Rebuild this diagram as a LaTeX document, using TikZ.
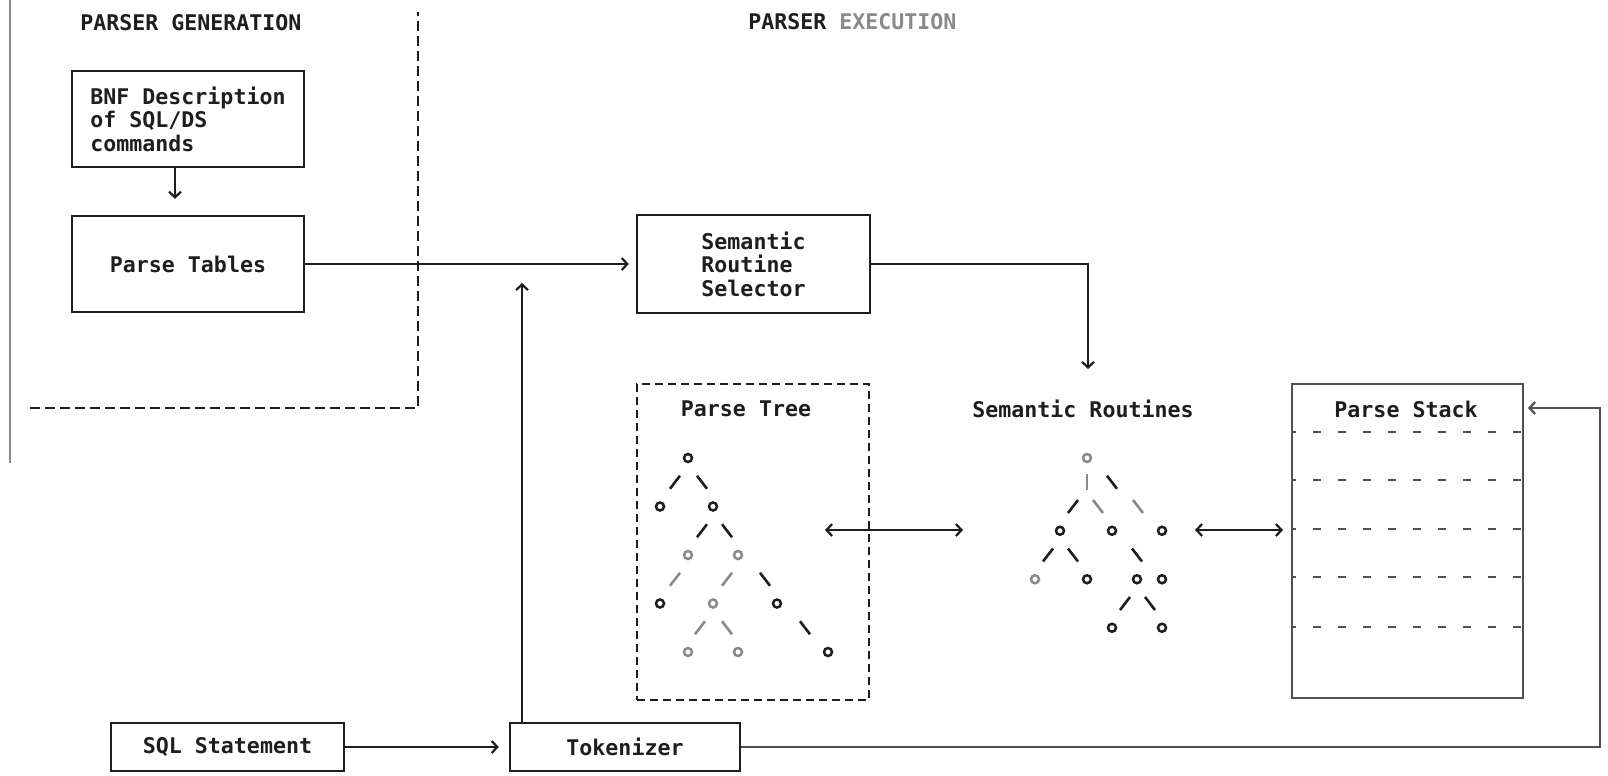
\documentclass[tikz,border=0pt]{standalone}
\usepackage{fontspec}
\setmainfont{DejaVu Sans Mono}
\usetikzlibrary{arrows.meta}

\definecolor{ink}{HTML}{1E1E1E}
\definecolor{faded}{HTML}{8A8A8A}
\definecolor{stackink}{HTML}{505050}

% small pieces of the ASCII-style trees
\newcommand\tnode[3][ink]{\draw[#1, line width=1.25pt] (#2,#3) circle[radius=2pt];}
\newcommand\fsl[3][ink]{\draw[#1, line width=1.3pt] (#2-5,#3+6.5) -- (#2+5,#3-6.5);}
\newcommand\bsl[3][ink]{\draw[#1, line width=1.3pt] (#2-5,#3-6.5) -- (#2+5,#3+6.5);}
\newcommand\vsl[3][ink]{\draw[#1, line width=1.3pt] (#2,#3-8) -- (#2,#3+8);}

\tikzset{
  every node/.style={font=\fontsize{10.8}{11.75}\selectfont\bfseries, text=ink},
  box/.style={draw=ink, line width=1.2pt, inner sep=0pt},
  dashbox/.style={draw=ink, line width=1.1pt, dash pattern=on 4pt off 2.5pt, inner sep=0pt},
  caption/.style={inner sep=0pt},
  wire/.style={draw=ink, line width=1pt},
  barb/.tip={Straight Barb[length=2.8pt,width=6pt,line width=1.1pt]},
  arr/.style={wire, -barb},
  dualarr/.style={wire, barb-barb},
}

\begin{document}
\begin{tikzpicture}[x=0.5pt,y=-0.5pt]
\fill[white] (0,0) rectangle (1608,776);
\useasboundingbox (0,0) rectangle (1608,776);

% phase separators
\draw[faded, line width=1.2pt] (10,0) -- (10,463);
\draw[ink, line width=1.1pt, dash pattern=on 5pt off 2.5pt] (30,408) -- (418,408) -- (418,12);

% headings
\node[caption, anchor=west] (gen) at (80,23) {PARSER GENERATION};
\node[caption, anchor=west] (exec) at (748,22) {PARSER \textcolor{faded}{EXECUTION}};

% boxes
\node[box, minimum width=116pt, minimum height=48pt, align=left] (bnf) at (188,119)
  {BNF Description\\of SQL/DS\\commands};
\node[box, minimum width=116pt, minimum height=48pt] (tables) at (188,264) {Parse Tables\hspace{7pt}};
\node[box, minimum width=116.5pt, minimum height=49pt, align=left] (selector) at (753.5,264)
  {Semantic\\Routine\\Selector};
\node[caption] (routines) at (1083,409) {Semantic Routines};
\node[dashbox, minimum width=116pt, minimum height=158pt] (tree) at (753,542) {};
\node[caption] (treetitle) at (746,409) {Parse Tree};
\node[box, draw=stackink, minimum width=115.5pt, minimum height=157pt] (stack) at (1407.5,541) {};
\node[caption] (stacktitle) at (1406,409) {Parse Stack};
\node[box, minimum width=116.5pt, minimum height=24pt] (sql) at (227.5,747) {SQL Statement};
\node[box, minimum width=115pt, minimum height=24pt] (tok) at (625,747) {Tokenizer};

% stack slots
\foreach \y in {432,480,529,577,627}
  \draw[stackink, line width=1.2pt, dash pattern=on 4pt off 8.5pt, dash phase=2.5pt] (1293,\y) -- (1523,\y);

% connectors
\draw[arr, shorten >=8pt] ([xshift=-6.5pt]bnf.south) -- ([xshift=-6.5pt]tables.north);
\draw[arr, shorten >=3.5pt] (tables.east) -- (selector.west);
\coordinate (rtop) at (1088,369);
\draw[arr] (selector.east) -| (rtop);
\coordinate (tokup) at (522,283);
\draw[arr] (tok.north -| tokup) -- (tokup);
\draw[arr, shorten >=5pt] (sql.east) -- (tok.west);
\coordinate (loop) at (1600,408);
\coordinate (stackin) at (1528,408);
\draw[arr, draw=stackink] (tok.east) -| (loop) -- (stackin);
\coordinate (tl) at (825,530);
\coordinate (tr) at (963,530);
\draw[dualarr] (tl) -- (tr);
\coordinate (sl) at (1195,530);
\coordinate (sr) at (1283,530);
\draw[dualarr] (sl) -- (sr);

% parse tree
\tnode{688}{458}
\fsl{675}{482.25} \bsl{702}{482.25}
\tnode{660}{506.5} \tnode{713}{506.5}
\fsl{702}{530.75} \bsl{727}{530.75}
\tnode[faded]{688}{555} \tnode[faded]{738}{555}
\fsl[faded]{675}{579.25} \fsl[faded]{727}{579.25} \bsl{765}{579.25}
\tnode{660}{603.5} \tnode[faded]{713}{603.5} \tnode{777}{603.5}
\fsl[faded]{700}{627.75} \bsl[faded]{727}{627.75} \bsl{805}{627.75}
\tnode[faded]{688}{652} \tnode[faded]{738}{652} \tnode{828}{652}

% semantic routines tree
\tnode[faded]{1087}{458}
\vsl[faded]{1087}{482.25} \bsl{1112}{482.25}
\fsl{1073}{506.5} \bsl[faded]{1098}{506.5} \bsl[faded]{1138}{506.5}
\tnode{1060}{530.75} \tnode{1112}{530.75} \tnode{1162}{530.75}
\fsl{1048}{555} \bsl{1073}{555} \bsl{1137}{555}
\tnode[faded]{1035}{579.25} \tnode{1087}{579.25} \tnode{1137}{579.25} \tnode{1162}{579.25}
\fsl{1125}{603.5} \bsl{1150}{603.5}
\tnode{1112}{627.75} \tnode{1162}{627.75}
\end{tikzpicture}
\end{document}
